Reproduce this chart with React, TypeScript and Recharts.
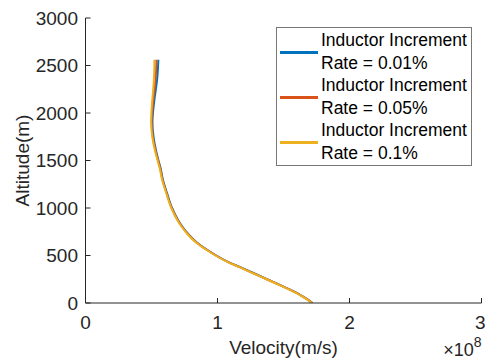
import React from 'react';
import { LineChart, Line, XAxis, YAxis, Legend } from 'recharts';

// Altitude samples (m), shared by all three runs
const altitude = [0, 40, 84, 140, 189, 250, 313, 375, 435, 500, 558, 640, 734, 800, 874, 1000, 1155, 1300, 1418, 1505, 1600, 1750, 1900, 2000, 2137, 2250, 2347, 2450, 2560];

// Velocity (×10^8 m/s) for each inductor increment rate
const velocity001 = [1.719, 1.679, 1.629, 1.55, 1.475, 1.375, 1.276, 1.176, 1.076, 0.991, 0.924, 0.841, 0.773, 0.736, 0.701, 0.656, 0.618, 0.586, 0.569, 0.552, 0.535, 0.515, 0.507, 0.511, 0.522, 0.533, 0.542, 0.548, 0.552];
const velocity005 = [1.717, 1.677, 1.627, 1.548, 1.473, 1.373, 1.273, 1.173, 1.073, 0.988, 0.921, 0.838, 0.77, 0.733, 0.698, 0.653, 0.615, 0.583, 0.566, 0.549, 0.531, 0.51, 0.502, 0.505, 0.514, 0.523, 0.53, 0.535, 0.537];
const velocity01 = [1.715, 1.675, 1.625, 1.545, 1.47, 1.37, 1.27, 1.17, 1.07, 0.985, 0.918, 0.835, 0.767, 0.73, 0.695, 0.65, 0.612, 0.58, 0.562, 0.545, 0.527, 0.506, 0.497, 0.499, 0.506, 0.513, 0.518, 0.521, 0.522];

const seriesNames = ['Inductor Increment\nRate = 0.01%', 'Inductor Increment\nRate = 0.05%', 'Inductor Increment\nRate = 0.1%'];
const seriesColors = ['#0072BD', '#D95319', '#EDB120'];
const seriesValues = [velocity001, velocity005, velocity01];

const xTicks = [0, 1, 2, 3];
const yTicks = [0, 500, 1000, 1500, 2000, 2500, 3000];

const FONT = '"Liberation Sans", Arial, Helvetica, sans-serif';
const AXIS_COLOR = '#262626';

const series = seriesValues.map((vals, i) => ({
  name: seriesNames[i],
  color: seriesColors[i],
  data: vals.map((v, k) => ({ v, alt: altitude[k] })),
}));

const LegendBox = () => (
  <div
    style={{
      width: 196,
      height: 139,
      boxSizing: 'border-box',
      border: '1px solid #777',
      background: '#fff',
      position: 'relative',
      fontFamily: FONT,
      fontSize: 17.5,
      color: '#000',
    }}
  >
    {series.map((s, i) => (
      <div key={i} style={{ position: 'absolute', left: 0, top: 1 + i * 45, width: '100%', height: 45 }}>
        <div style={{ position: 'absolute', left: 3, top: 22, width: 38, height: 2.5, background: s.color }} />
        {s.name.split('\n').map((t, j) => (
          <div key={j} style={{ position: 'absolute', left: 44, top: j * 22.6, lineHeight: '22.6px', whiteSpace: 'nowrap' }}>
            {t}
          </div>
        ))}
      </div>
    ))}
  </div>
);

const XTitle = (props: any) => {
  const vb = props.viewBox;
  return (
    <g fontFamily={FONT} fill={AXIS_COLOR}>
      <text x={vb.x + vb.width / 2} y={vb.y + 51} textAnchor="middle" fontSize={19}>
        Velocity(m/s)
      </text>
      <text x={vb.x + vb.width} y={vb.y + 53} textAnchor="end" fontSize={18}>
        ×10
        <tspan fontSize={14} dy={-9}>8</tspan>
      </text>
    </g>
  );
};

const YTitle = (props: any) => {
  const vb = props.viewBox;
  const cx = 28.5;
  const cy = vb.y + vb.height / 2;
  return (
    <text
      x={cx}
      y={cy}
      transform={`rotate(-90, ${cx}, ${cy})`}
      textAnchor="middle"
      fontSize={19}
      fontFamily={FONT}
      fill={AXIS_COLOR}
    >
      Altitude(m)
    </text>
  );
};

export default function App() {
  const tickStyle = { fontSize: 19, fontFamily: FONT, fill: AXIS_COLOR };
  return (
    <div style={{ position: 'fixed', left: 0, top: 0, width: 485, height: 361, background: '#fff' }}>
      <LineChart width={485} height={361} margin={{ top: 18, right: 3.5, bottom: 0, left: 0 }}>
        <XAxis
          xAxisId="b"
          type="number"
          dataKey="v"
          domain={[0, 3]}
          ticks={xTicks}
          allowDataOverflow
          height={58}
          tickSize={-5}
          tickMargin={17.5}
          tick={tickStyle}
          axisLine={{ stroke: AXIS_COLOR }}
          tickLine={{ stroke: AXIS_COLOR }}
          label={<XTitle />}
        />
        <XAxis
          xAxisId="t"
          orientation="top"
          type="number"
          dataKey="v"
          domain={[0, 3]}
          ticks={xTicks}
          allowDataOverflow
          height={0}
          tickSize={-5}
          tick={false}
          axisLine={{ stroke: AXIS_COLOR }}
          tickLine={{ stroke: AXIS_COLOR }}
        />
        <YAxis
          yAxisId="l"
          type="number"
          dataKey="alt"
          domain={[0, 3000]}
          ticks={yTicks}
          allowDataOverflow
          width={85.5}
          tickSize={-5}
          tickMargin={12.5}
          tick={tickStyle}
          axisLine={{ stroke: AXIS_COLOR }}
          tickLine={{ stroke: AXIS_COLOR }}
          label={<YTitle />}
        />
        <YAxis
          yAxisId="r"
          orientation="right"
          type="number"
          dataKey="alt"
          domain={[0, 3000]}
          ticks={yTicks}
          allowDataOverflow
          width={0}
          tickSize={-5}
          tick={false}
          axisLine={{ stroke: AXIS_COLOR }}
          tickLine={{ stroke: AXIS_COLOR }}
        />
        <Legend
          layout="vertical"
          align="center"
          verticalAlign="middle"
          content={<LegendBox />}
          wrapperStyle={{ position: 'absolute', left: 276, top: 27, width: 196, height: 139 }}
        />
        {series.map((s, i) => (
          <Line
            key={i}
            xAxisId="b"
            yAxisId="l"
            data={s.data}
            dataKey="alt"
            name={s.name}
            type="monotoneY"
            stroke={s.color}
            strokeWidth={2}
            dot={false}
            activeDot={false}
            isAnimationActive={false}
          />
        ))}
      </LineChart>
    </div>
  );
}
